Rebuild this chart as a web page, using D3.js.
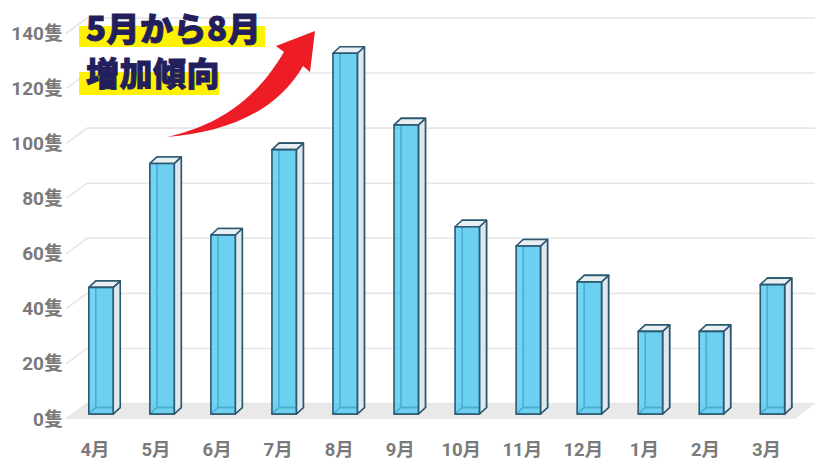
<!DOCTYPE html>
<html>
<head>
<meta charset="utf-8">
<script src="https://cdn.jsdelivr.net/npm/d3@7"></script>
<style>
  body { margin: 0; background: #fff; }
  svg { display: block; }
</style>
</head>
<body>
<div id="chart"></div>
<script>
// data
var months = ["4月","5月","6月","7月","8月","9月","10月","11月","12月","1月","2月","3月"];
var boats = [46, 91, 65, 96, 131, 105, 68, 61, 48, 30, 30, 47];
var yTicks = [0, 20, 40, 60, 80, 100, 120, 140];
var unit = "隻";
var titleLines = ["5月から8月", "増加傾向"];

var width = 825, height = 461;
var floorY = 419,            // front edge of the floor
    depth = {dx: 20, dy: -15.5},   // full depth of the box
    barOff = {dx: 6, dy: -5},      // front plane of the bars
    barDepth = {dx: 7, dy: -6.5};

var svg = d3.select("#chart").append("svg")
  .attr("width", width)
  .attr("height", height);

var x = d3.scaleBand().domain(months).range([64.5, 797]).paddingInner(0.6).paddingOuter(0.3);
var y = d3.scaleLinear().domain([0, 140]).range([0, 385.5]);

var line = d3.line();

// floor
svg.append("path")
  .attr("d", line([[67, floorY], [795, floorY], [795 + depth.dx, floorY + depth.dy], [67 + depth.dx, floorY + depth.dy]]) + "Z")
  .attr("fill", "#e9e9e9");

// grid: side wall + back wall
var grid = svg.append("g").attr("stroke", "#e6e6e6").attr("stroke-width", 1.6).attr("fill", "none");
yTicks.forEach(function(v) {
  var fy = floorY - y(v), by = fy + depth.dy;
  grid.append("path").attr("d", line([[66, fy], [67 + depth.dx, by], [815, by]]));
});

// y labels
svg.append("g").selectAll("text")
  .data(yTicks)
  .enter().append("text")
  .attr("x", 63)
  .attr("y", function(d) { return floorY - y(d); })
  .attr("text-anchor", "end")
  .attr("dominant-baseline", "central")
  .attr("font-family", "Roboto, 'Noto Sans CJK JP', sans-serif")
  .attr("font-weight", "bold")
  .attr("font-size", 19)
  .attr("fill", "#7a7a7a")
  .text(function(d) { return d + unit; });

// x labels
svg.append("g").selectAll("text")
  .data(months)
  .enter().append("text")
  .attr("x", function(d) { return x(d) + x.bandwidth() / 2; })
  .attr("y", 450)
  .attr("text-anchor", "middle")
  .attr("dominant-baseline", "central")
  .attr("font-family", "Roboto, 'Noto Sans CJK JP', sans-serif")
  .attr("font-weight", "bold")
  .attr("font-size", 18.5)
  .attr("fill", "#7a7a7a")
  .text(function(d) { return d; });

// bars
var stroke = "#2c5870";
var bars = svg.append("g").selectAll("g")
  .data(months.map(function(m, i) { return {m: m, v: boats[i]}; }))
  .enter().append("g");

bars.each(function(d) {
  var g = d3.select(this);
  var x0 = x(d.m) + barOff.dx, x1 = x0 + x.bandwidth();
  var y0 = floorY + barOff.dy, y1 = y0 - y(d.v);
  var bx = barDepth.dx, by = barDepth.dy;
  function p(px, py, back) { return back ? [px + bx, py + by] : [px, py]; }
  var face = function(pts, fill) {
    g.append("path").attr("d", line(pts) + "Z")
      .attr("fill", fill).attr("stroke", stroke).attr("stroke-width", 1.6)
      .attr("stroke-linejoin", "round");
  };
  // back face + hidden edges
  face([p(x0, y0, 1), p(x1, y0, 1), p(x1, y1, 1), p(x0, y1, 1)], "#e2ebf0");
  face([p(x0, y0), p(x0, y0, 1), p(x1, y0, 1), p(x1, y0)], "none");
  // right side
  face([p(x1, y0), p(x1, y0, 1), p(x1, y1, 1), p(x1, y1)], "#dfe8ee");
  // top
  face([p(x0, y1), p(x1, y1), p(x1, y1, 1), p(x0, y1, 1)], "#e8f0f4");
  // front (see-through)
  g.append("path").attr("d", line([p(x0, y0), p(x1, y0), p(x1, y1), p(x0, y1)]) + "Z")
    .attr("fill", "#4cc8f0").attr("fill-opacity", 0.78)
    .attr("stroke", stroke).attr("stroke-width", 1.6).attr("stroke-linejoin", "round");
});

// title highlight
svg.append("rect").attr("x", 79).attr("y", 26).attr("width", 186).attr("height", 21).attr("fill", "#fff200");
svg.append("rect").attr("x", 79).attr("y", 72).attr("width", 140).attr("height", 23).attr("fill", "#fff200");

svg.append("g").selectAll("text")
  .data(titleLines)
  .enter().append("text")
  .attr("x", 86)
  .attr("y", function(d, i) { return 27 + i * 45; })
  .attr("dominant-baseline", "central")
  .attr("font-family", "'Noto Sans CJK JP', sans-serif")
  .attr("font-weight", 900)
  .attr("font-size", 33)
  .attr("letter-spacing", 0.5)
  .attr("fill", "#221f5c")
  .attr("stroke", "#221f5c")
  .attr("stroke-width", 0.9)
  .text(function(d) { return d; });

// red arrow
var arrow = d3.path();
arrow.moveTo(167, 137);
arrow.bezierCurveTo(205, 128, 250, 110, 284, 52);
arrow.lineTo(276, 46);
arrow.lineTo(315, 31);
arrow.lineTo(310, 72);
arrow.lineTo(303, 66);
arrow.bezierCurveTo(275, 115, 220, 133, 167, 137);
arrow.closePath();
svg.append("path").attr("d", arrow.toString()).attr("fill", "#ee1c25");
</script>
</body>
</html>
